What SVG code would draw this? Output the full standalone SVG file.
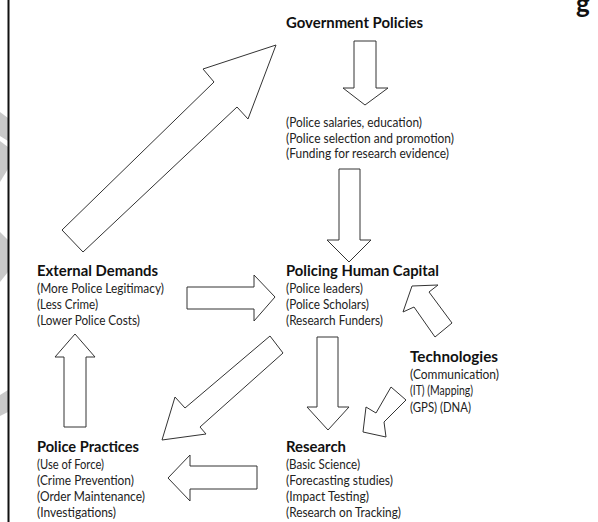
<svg xmlns="http://www.w3.org/2000/svg" width="598" height="522" viewBox="0 0 598 522">
<style>
.h{font-family:Lato,"Liberation Sans",sans-serif;font-weight:bold;font-size:16px;fill:#111}
.t{font-family:Lato,"Liberation Sans",sans-serif;font-size:13px;fill:#222}
.ar{fill:#fff;stroke:#333;stroke-width:1;stroke-linejoin:miter}
.wm{fill:#c8c8c8}
</style>
<rect width="598" height="522" fill="#fff"/>
<g id="watermark">
<polygon class="wm" points="0,112 8,118 8,141 0,136"/>
<polygon class="wm" points="0,141 8,147 8,169 0,182"/>
<polygon class="wm" points="0,232 8,240 8,272 0,282"/>
<polygon class="wm" points="0,395 8,390 8,412 0,416"/>
</g>
<line x1="8.5" y1="0" x2="8.5" y2="522" stroke="#111" stroke-width="2"/>
<text class="h" x="576" y="13" style="font-size:26px">g</text>
<g id="connectors">
<polygon class="ar" points="62,230 214,82 203,69 276,45 248,119 237,107 83,252"/>
<polygon class="ar" points="354,41 376,41 376,88 388,88 365,105 343,88 354,88"/>
<polygon class="ar" points="339,169 360,169 360,240 371,240 349,262 327,240 339,240"/>
<polygon class="ar" points="187,287 254,287 254,275 275,297 254,321 254,309 187,309"/>
<polygon class="ar" points="64,427 64,357 55,357 75,334 95,357 86,357 86,427"/>
<polygon class="ar" points="270,336 283,353 200,427 206,434 162,440 175,397 185,408"/>
<polygon class="ar" points="317,337 338,337 338,407 349,407 328,430 307,407 317,407"/>
<polygon class="ar" points="257,466 257,489 190,489 190,501 168,478 190,455 190,466"/>
<polygon class="ar" points="452,323 435,337 414,307 403,312 412,286 438,285 429,292"/>
<polygon class="ar" points="391,387 406,400 384,422 386,437 363,432 366,407 376,413"/>
</g>
<g id="government-policies">
<text class="h" x="286" y="28" textLength="137" lengthAdjust="spacingAndGlyphs">Government Policies</text>
</g>
<g id="gp-items">
<text class="t" x="286" y="127" textLength="136" lengthAdjust="spacingAndGlyphs">(Police salaries, education)</text>
<text class="t" x="286" y="143" textLength="168" lengthAdjust="spacingAndGlyphs">(Police selection and promotion)</text>
<text class="t" x="286" y="158" textLength="163" lengthAdjust="spacingAndGlyphs">(Funding for research evidence)</text>
</g>
<g id="external-demands">
<text class="h" x="37" y="276" textLength="121" lengthAdjust="spacingAndGlyphs">External Demands</text>
<text class="t" x="37" y="293" textLength="127" lengthAdjust="spacingAndGlyphs">(More Police Legitimacy)</text>
<text class="t" x="37" y="309" textLength="61" lengthAdjust="spacingAndGlyphs">(Less Crime)</text>
<text class="t" x="37" y="325" textLength="103" lengthAdjust="spacingAndGlyphs">(Lower Police Costs)</text>
</g>
<g id="policing-human-capital">
<text class="h" x="286" y="276" textLength="153" lengthAdjust="spacingAndGlyphs">Policing Human Capital</text>
<text class="t" x="286" y="293" textLength="77" lengthAdjust="spacingAndGlyphs">(Police leaders)</text>
<text class="t" x="286" y="309" textLength="83" lengthAdjust="spacingAndGlyphs">(Police Scholars)</text>
<text class="t" x="286" y="325" textLength="97" lengthAdjust="spacingAndGlyphs">(Research Funders)</text>
</g>
<g id="technologies">
<text class="h" x="410" y="362" textLength="88" lengthAdjust="spacingAndGlyphs">Technologies</text>
<text class="t" x="410" y="379" textLength="89" lengthAdjust="spacingAndGlyphs">(Communication)</text>
<text class="t" x="410" y="395" textLength="63" lengthAdjust="spacingAndGlyphs">(IT) (Mapping)</text>
<text class="t" x="410" y="412" textLength="61" lengthAdjust="spacingAndGlyphs">(GPS) (DNA)</text>
</g>
<g id="police-practices">
<text class="h" x="37" y="452" textLength="102" lengthAdjust="spacingAndGlyphs">Police Practices</text>
<text class="t" x="37" y="469" textLength="67" lengthAdjust="spacingAndGlyphs">(Use of Force)</text>
<text class="t" x="37" y="485" textLength="97" lengthAdjust="spacingAndGlyphs">(Crime Prevention)</text>
<text class="t" x="37" y="501" textLength="108" lengthAdjust="spacingAndGlyphs">(Order Maintenance)</text>
<text class="t" x="37" y="517" textLength="79" lengthAdjust="spacingAndGlyphs">(Investigations)</text>
</g>
<g id="research">
<text class="h" x="286" y="452" textLength="60" lengthAdjust="spacingAndGlyphs">Research</text>
<text class="t" x="286" y="469" textLength="74" lengthAdjust="spacingAndGlyphs">(Basic Science)</text>
<text class="t" x="286" y="485" textLength="107" lengthAdjust="spacingAndGlyphs">(Forecasting studies)</text>
<text class="t" x="286" y="501" textLength="83" lengthAdjust="spacingAndGlyphs">(Impact Testing)</text>
<text class="t" x="286" y="517" textLength="115" lengthAdjust="spacingAndGlyphs">(Research on Tracking)</text>
</g>
</svg>
